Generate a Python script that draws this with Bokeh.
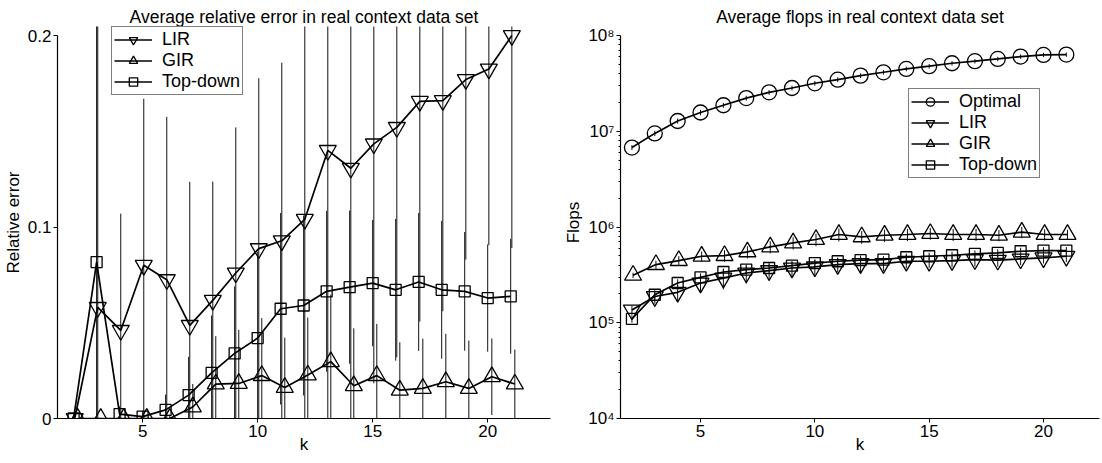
from bokeh.plotting import figure
from bokeh.models import Range1d, FixedTicker, Legend, LegendItem, ColumnDataSource
from bokeh.layouts import row
from bokeh.embed import file_html
from bokeh.resources import INLINE
import numpy as np

FONT = "Liberation Sans"

# ---------------- data ----------------
k = list(range(2, 22))

# Left: average relative error (mean, std)
lir_err_mean = [0.0, 0.058, 0.046, 0.080, 0.0725, 0.0486, 0.0617, 0.076, 0.0887, 0.0928,
                0.104, 0.140, 0.1307, 0.1434, 0.152, 0.1656, 0.166, 0.177, 0.1825, 0.200]
lir_err_std = [0.0, 0.17, 0.061, 0.087, 0.085, 0.075, 0.062, 0.076, 0.089, 0.093,
               0.104, 0.140, 0.131, 0.125, 0.12, 0.115, 0.11, 0.094, 0.092, 0.111]
gir_err_mean = [0.0, 0.0, 0.0, 0.0, 0.0, 0.006, 0.018, 0.0183, 0.0224, 0.0162,
                0.0227, 0.0297, 0.0171, 0.0224, 0.0148, 0.0157, 0.0192, 0.0157, 0.0218, 0.018]
gir_err_std = [0.0, 0.0, 0.0, 0.0, 0.002, 0.012, 0.025, 0.028, 0.03, 0.026,
               0.03, 0.035, 0.03, 0.027, 0.025, 0.026, 0.025, 0.025, 0.02, 0.018]
td_err_mean = [0.0, 0.0817, 0.0023, 0.001, 0.0045, 0.0122, 0.0238, 0.034, 0.042, 0.0573,
               0.059, 0.0664, 0.0686, 0.0707, 0.0672, 0.0713, 0.0672, 0.0664, 0.0629, 0.0638]
td_err_std = [0.0, 0.14, 0.004, 0.003, 0.008, 0.02, 0.03, 0.035, 0.045, 0.05,
              0.047, 0.042, 0.04, 0.033, 0.037, 0.036, 0.036, 0.031, 0.028, 0.03]

# Right: average flops (mean, std)
opt_flops = [6.76e6, 9.5e6, 1.28e7, 1.57e7, 1.87e7, 2.22e7, 2.55e7, 2.83e7, 3.17e7, 3.46e7,
             3.81e7, 4.13e7, 4.48e7, 4.78e7, 5.13e7, 5.39e7, 5.69e7, 6.03e7, 6.27e7, 6.32e7]
opt_flops_std = [0.4e6, 0.6e6, 0.8e6, 1.0e6, 1.1e6, 1.3e6, 1.5e6, 1.6e6, 1.8e6, 2.0e6,
                 2.2e6, 2.3e6, 2.5e6, 2.6e6, 2.8e6, 2.9e6, 3.0e6, 3.2e6, 3.3e6, 3.3e6]
lir_flops = [1.36e5, 1.88e5, 2.08e5, 2.6e5, 2.93e5, 3.31e5, 3.5e5, 3.73e5, 3.83e5, 4.05e5,
             4.15e5, 4.15e5, 4.39e5, 4.39e5, 4.46e5, 4.56e5, 4.5e5, 4.64e5, 4.76e5, 4.95e5]
lir_flops_std = [0.15e5, 0.3e5, 0.4e5, 0.55e5, 0.7e5, 0.75e5, 0.75e5, 0.7e5, 0.7e5, 0.7e5,
                 0.9e5, 0.7e5, 0.7e5, 0.65e5, 0.65e5, 0.7e5, 0.65e5, 0.65e5, 0.6e5, 0.65e5]
gir_flops = [3.13e5, 4.05e5, 4.46e5, 4.95e5, 5.03e5, 5.5e5, 6.2e5, 6.82e5, 7.4e5, 8.35e5,
             7.89e5, 8.2e5, 8.35e5, 8.55e5, 8.35e5, 8.35e5, 8.2e5, 8.83e5, 8.35e5, 8.35e5]
gir_flops_std = [0.2e5, 0.4e5, 0.5e5, 0.6e5, 0.7e5, 0.8e5, 0.9e5, 1.0e5, 1.1e5, 1.3e5,
                 1.2e5, 1.2e5, 1.2e5, 1.2e5, 1.2e5, 1.2e5, 1.1e5, 1.2e5, 1.1e5, 1.0e5]
td_flops = [1.1e5, 1.96e5, 2.6e5, 2.98e5, 3.39e5, 3.59e5, 3.73e5, 3.95e5, 4.2e5, 4.39e5,
            4.5e5, 4.56e5, 4.83e5, 4.95e5, 5.07e5, 5.24e5, 5.36e5, 5.58e5, 5.67e5, 5.67e5]
td_flops_std = [0.1e5, 0.2e5, 0.25e5, 0.3e5, 0.3e5, 0.35e5, 0.35e5, 0.35e5, 0.4e5, 0.4e5,
                0.4e5, 0.4e5, 0.45e5, 0.45e5, 0.45e5, 0.45e5, 0.5e5, 0.5e5, 0.5e5, 0.5e5]

x_ticks = [5, 10, 15, 20]
left_y_ticks = [0, 0.1, 0.2]
left_y_labels = ["0", "0.1", "0.2"]
right_y_ticks = [1e4, 1e5, 1e6, 1e7, 1e8]
right_y_labels = ["10\u2074", "10\u2075", "10\u2076", "10\u2077", "10\u2078"]

LEFT_TITLE = "Average relative error in real context data set"
RIGHT_TITLE = "Average flops in real context data set"


def safe_set(obj, name, val, fallback=None):
    try:
        setattr(obj, name, val)
    except Exception:
        if fallback is not None:
            setattr(obj, name, fallback)


def style(p):
    p.outline_line_color = None
    p.xgrid.visible = False
    p.ygrid.visible = False
    p.background_fill_color = "white"
    p.border_fill_color = "white"
    p.title.text_font = FONT
    p.title.text_font_size = "17.5px"
    p.title.text_font_style = "normal"
    p.title.align = "center"
    p.title.text_color = "black"
    if "standoff" in p.title.properties():
        p.title.standoff = 0
    for ax in p.axis:
        ax.axis_line_color = "black"
        ax.axis_line_width = 1.2
        ax.major_tick_line_color = "black"
        ax.major_tick_out = 4
        ax.major_tick_in = 0
        ax.minor_tick_line_color = None
        ax.major_label_text_font = FONT
        ax.major_label_text_font_size = "17px"
        ax.major_label_text_color = "black"
        ax.major_label_standoff = 2
        ax.axis_label_text_font = FONT
        ax.axis_label_text_font_size = "17px"
        ax.axis_label_text_font_style = "normal"
        ax.axis_label_text_color = "black"
        ax.axis_label_standoff = 2
    safe_set(p.xaxis[0], "axis_label_standoff", -5, 0)


def series(p, xs, ys, err, marker, size, offset):
    xo = np.array(xs, dtype=float) + offset
    y = np.array(ys, dtype=float)
    e = np.array(err, dtype=float)
    src = ColumnDataSource(dict(x=xo, y=y, lo=y - e, hi=y + e))
    p.segment(x0="x", y0="lo", x1="x", y1="hi", source=src,
              line_color="#111111", line_width=1)
    ln = p.line("x", "y", source=src, line_color="black", line_width=1.7)
    sc = p.scatter("x", "y", source=src, marker=marker, size=size,
                   fill_color=None, line_color="black", line_width=1.3)
    return [ln, sc]


H = 461

# ---------------- left figure ----------------
p1 = figure(width=560, height=H, output_backend="svg", toolbar_location=None,
            title=LEFT_TITLE,
            x_range=Range1d(1.30, 22.73), y_range=Range1d(0, 0.2047),
            min_border_left=55, min_border_right=10, min_border_top=26, min_border_bottom=43)
style(p1)
safe_set(p1.title, "offset", 2)
p1.xaxis.ticker = FixedTicker(ticks=x_ticks, minor_ticks=[])
p1.yaxis.ticker = FixedTicker(ticks=left_y_ticks, minor_ticks=[])
p1.yaxis.major_label_overrides = {t: l for t, l in zip(left_y_ticks, left_y_labels)}
p1.yaxis.bounds = (0, 0.2)
p1.xaxis.axis_label = "k"
p1.yaxis.axis_label = "Relative error"

r_lir = series(p1, k, lir_err_mean, lir_err_std, "inverted_triangle", 17, 0.05)
r_gir = series(p1, k, gir_err_mean, gir_err_std, "triangle", 17, 0.18)
r_td = series(p1, k, td_err_mean, td_err_std, "square", 11, 0.0)

leg1 = Legend(items=[LegendItem(label="LIR", renderers=r_lir),
                     LegendItem(label="GIR", renderers=r_gir),
                     LegendItem(label="Top-down", renderers=r_td)],
              location=(54, 323))
p1.add_layout(leg1, "center")

# ---------------- right figure ----------------
p2 = figure(width=541, height=H, output_backend="svg", toolbar_location=None,
            title=RIGHT_TITLE, y_axis_type="log",
            x_range=Range1d(1.50, 22.45), y_range=Range1d(1e4, 1.242e8),
            min_border_left=60, min_border_right=2, min_border_top=26, min_border_bottom=43)
style(p2)
safe_set(p2.title, "offset", 10)
p2.xaxis.ticker = FixedTicker(ticks=x_ticks, minor_ticks=[])
minor = [m * 10 ** e for e in range(4, 8) for m in range(2, 10)]
p2.yaxis.ticker = FixedTicker(ticks=right_y_ticks, minor_ticks=minor)
p2.yaxis.major_label_overrides = {t: l for t, l in zip(right_y_ticks, right_y_labels)}
p2.yaxis.minor_tick_line_color = "black"
p2.yaxis.minor_tick_out = 2
p2.yaxis.minor_tick_in = 0
p2.yaxis.bounds = (1e4, 1e8)
p2.xaxis.axis_label = "k"
p2.yaxis.axis_label = "Flops"

f_opt = series(p2, k, opt_flops, opt_flops_std, "circle", 15, 0.0)
f_lir = series(p2, k, lir_flops, lir_flops_std, "inverted_triangle", 17, 0.0)
f_gir = series(p2, k, gir_flops, gir_flops_std, "triangle", 17, 0.05)
f_td = series(p2, k, td_flops, td_flops_std, "square", 11, 0.0)

leg2 = Legend(items=[LegendItem(label="Optimal", renderers=f_opt),
                     LegendItem(label="LIR", renderers=f_lir),
                     LegendItem(label="GIR", renderers=f_gir),
                     LegendItem(label="Top-down", renderers=f_td)],
              location=(288, 240))
p2.add_layout(leg2, "center")

for lg in [leg1, leg2]:
    lg.label_text_font = FONT
    lg.label_text_font_size = "18px"
    lg.label_text_color = "black"
    lg.label_height = 21
    lg.glyph_height = 21
    lg.glyph_width = 38
    lg.label_standoff = 10
    lg.padding = 2
    lg.margin = 0
    lg.spacing = 0
    lg.border_line_color = "black"
    lg.border_line_width = 1
    lg.background_fill_color = "white"
    lg.background_fill_alpha = 1.0

layout = row(p1, p2)
open("out.html", "w").write(file_html(layout, INLINE))
